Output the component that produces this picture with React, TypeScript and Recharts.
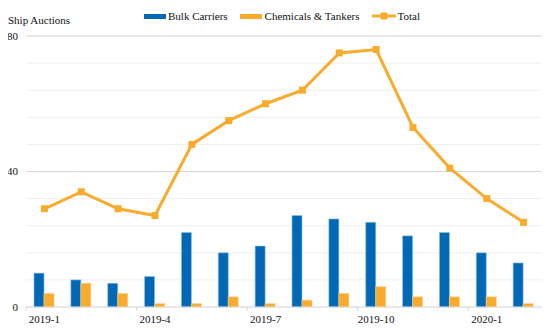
import {
  ComposedChart,
  Bar,
  Line,
  XAxis,
  YAxis,
  CartesianGrid,
  ReferenceLine,
} from 'recharts';

const months = [
  '2019-1', '2019-2', '2019-3', '2019-4', '2019-5', '2019-6', '2019-7',
  '2019-8', '2019-9', '2019-10', '2019-11', '2019-12', '2020-1', '2020-2',
];
const bulkCarriers = [10, 8, 7, 9, 22, 16, 18, 27, 26, 25, 21, 22, 16, 13];
const chemicalsTankers = [4, 7, 4, 1, 1, 3, 1, 2, 4, 6, 3, 3, 3, 1];
const total = [29, 34, 29, 27, 48, 55, 60, 64, 75, 76, 53, 41, 32, 25];
const yTicks = [0, 8, 16, 24, 32, 40, 48, 56, 64, 72, 80];
const yLabels = [0, 40, 80];

const data = months.map((m, i) => ({
  month: m,
  bulk: bulkCarriers[i],
  chem: chemicalsTankers[i],
  total: total[i],
}));

const BLUE = '#0068b5';
const ORANGE = '#f8ab2c';
const FONT = "'Liberation Serif', 'Times New Roman', Times, serif";

const W = 551;
const H = 329;
const Y_AXIS_W = 26;
const RIGHT = 9;
const HALF_BAND = (W - Y_AXIS_W - RIGHT) / months.length / 2;

function MonthTick(props: any) {
  const { x, y, payload } = props;
  const axisY = y - 8;
  return (
    <g>
      <line x1={x - HALF_BAND} x2={x - HALF_BAND} y1={axisY} y2={axisY + 4} stroke="#d9d9d9" />
      <text x={x} y={y} dy="0.71em" textAnchor="middle" fontSize={11} fill="#111" fontFamily={FONT}>
        {payload.value}
      </text>
    </g>
  );
}

function SquareDot(props: any) {
  const { cx, cy } = props;
  if (cx == null || cy == null) return null;
  return <rect x={cx - 3.5} y={cy - 3.5} width={7} height={7} fill={ORANGE} />;
}

function LegendRow() {
  const item = { display: 'flex', alignItems: 'center', marginRight: 12 } as const;
  return (
    <div
      style={{
        position: 'absolute',
        top: 9,
        left: 144,
        display: 'flex',
        fontFamily: FONT,
        fontSize: 11,
        color: '#111',
        lineHeight: '14px',
      }}
    >
      <div style={item}>
        <span style={{ width: 22, height: 5, background: BLUE, marginRight: 2 }} />
        Bulk Carriers
      </div>
      <div style={item}>
        <span style={{ width: 22, height: 5, background: ORANGE, marginRight: 3 }} />
        Chemicals &amp; Tankers
      </div>
      <div style={item}>
        <svg width={24} height={8} style={{ marginRight: 2 }}>
          <line x1={0} x2={24} y1={4} y2={4} stroke={ORANGE} strokeWidth={3} />
          <rect x={8.5} y={0.5} width={7} height={7} fill={ORANGE} />
        </svg>
        Total
      </div>
    </div>
  );
}

export default function App() {
  return (
    <div
      style={{
        position: 'relative',
        margin: -8,
        width: W,
        height: H,
        borderRight: '2px solid #dedede',
        borderBottom: '2px solid #dedede',
        background: '#fff',
      }}
    >
      <div
        style={{
          position: 'absolute',
          top: 14,
          left: 8,
          fontFamily: FONT,
          fontSize: 11,
          color: '#111',
        }}
      >
        Ship Auctions
      </div>
      <LegendRow />
      <ComposedChart
        width={W}
        height={H}
        data={data}
        margin={{ top: 36, right: RIGHT, bottom: 0, left: 0 }}
        barSize={10}
        barGap={0}
      >
        <CartesianGrid vertical={false} stroke="#efefef" />
        <ReferenceLine y={40} stroke="#d9d9d9" />
        <ReferenceLine y={80} stroke="#d9d9d9" />
        <XAxis
          dataKey="month"
          interval={2}
          height={22}
          tickSize={0}
          tickMargin={8}
          tickLine={false}
          axisLine={{ stroke: '#d9d9d9' }}
          tick={<MonthTick />}
        />
        <YAxis
          width={Y_AXIS_W}
          domain={[0, 80]}
          ticks={yTicks}
          interval={0}
          axisLine={false}
          tickLine={false}
          tickFormatter={(v: number) => (yLabels.includes(v) ? String(v) : '')}
          tick={{ fontSize: 11, fill: '#111', fontFamily: FONT }}
        />
        <Bar dataKey="bulk" fill={BLUE} stroke="#8fc0e8" strokeWidth={0.6} isAnimationActive={false} />
        <Bar dataKey="chem" fill={ORANGE} stroke="#fbd08a" strokeWidth={0.6} isAnimationActive={false} />
        <Line
          dataKey="total"
          stroke={ORANGE}
          strokeWidth={3}
          dot={<SquareDot />}
          activeDot={false}
          isAnimationActive={false}
        />
      </ComposedChart>
    </div>
  );
}
